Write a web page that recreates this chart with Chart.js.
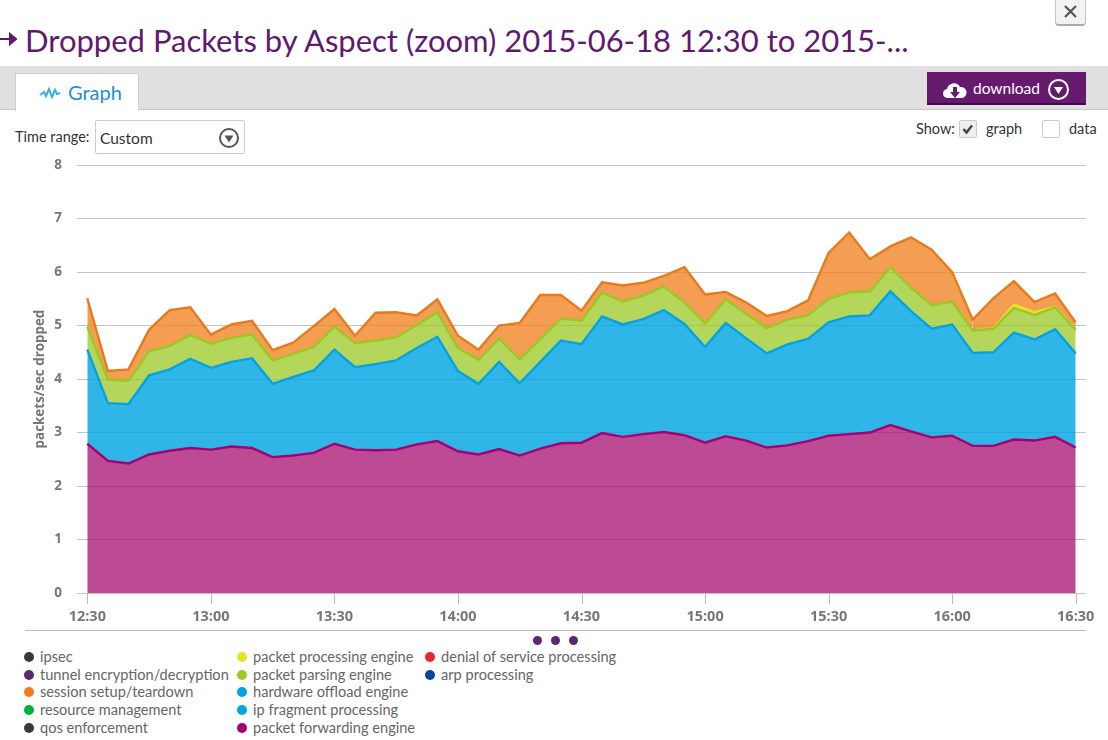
<!DOCTYPE html>
<html>
<head>
<meta charset="utf-8">
<title>Dropped Packets by Aspect</title>
<script src="https://cdn.jsdelivr.net/npm/chart.js@4"></script>
<style>
  html, body { margin: 0; padding: 0; background: #fff; overflow: hidden; }
  body { width: 1108px; height: 740px; position: relative; font-family: Lato, "Open Sans", sans-serif; color: #333; }
  .abs { position: absolute; }
  #title { left: 25px; top: 21px; font-size: 31px; line-height: 38px; color: #5f1a6e; white-space: nowrap; font-weight: 400; }
  #band { left: 0; top: 66px; width: 1108px; height: 43px; background: #e0e0e0; border-bottom: 1px solid #c8c8c8; }
  #tab { left: 15px; top: 73px; width: 122px; height: 37px; background: #fff; border: 1px solid #d0d0d0; border-bottom: none; }
  #tabText { left: 68px; top: 80px; font-size: 20px; line-height: 24px; color: #1c8fd0; }
  #close { left: 1055px; top: -4px; width: 31px; height: 30px; background: #f2f2f2; border: 1px solid #c4c4c4; border-bottom: 2px solid #aaa; border-radius: 0 0 4px 4px; box-sizing: border-box; }
  #download { left: 927px; top: 72px; width: 159px; height: 33px; background: #661a6e; border-bottom: 2px solid #3f0a48; box-sizing: border-box; }
  #downloadText { left: 973px; top: 78px; font-size: 15.5px; line-height: 20px; color: #fff; }
  .lbl { font-size: 14.5px; line-height: 18px; color: #333; white-space: nowrap; }
  #select { left: 95px; top: 120px; width: 150px; height: 34px; border: 1px solid #ccc; border-radius: 2px; box-sizing: border-box; background: #fff; }
  .box { width: 18px; height: 18px; box-sizing: border-box; border: 1px solid #ccc; border-radius: 2px; }
  #chartWrap { left: 0; top: 142px; width: 1108px; height: 483px; }
  #rule { left: 25px; top: 630px; width: 1061px; height: 1px; background: #bbb; }
  .pager { width: 9px; height: 9px; border-radius: 50%; background: #5b2a6e; top: 636px; }
  .legendDot { width: 10px; height: 10px; border-radius: 50%; }
  .legendText { font-size: 14.6px; line-height: 18px; color: #666; white-space: nowrap; }
</style>
</head>
<body>
<svg class="abs" style="left:0;top:30px" width="20" height="18"><path d="M0 9H14M10 4L16 9L10 14Z" stroke="#5f1a6e" stroke-width="2" fill="#5f1a6e"/></svg>
<div class="abs" id="title">Dropped Packets by Aspect (zoom) 2015-06-18 12:30 to 2015-...</div>
<div class="abs" id="close"></div>
<svg class="abs" style="left:1063px;top:4px" width="15" height="15"><path d="M2 2L13 13M13 2L2 13" stroke="#555" stroke-width="2.2"/></svg>
<div class="abs" id="band"></div>
<div class="abs" id="tab"></div>
<svg class="abs" style="left:39px;top:85px" width="22" height="16"><path d="M1 10L5 7L7 11L10 4L13 12L16 5L18 9L21 8" stroke="#3bb0dd" stroke-width="2" fill="none"/></svg>
<div class="abs" id="tabText">Graph</div>
<div class="abs" id="download"></div>
<svg class="abs" style="left:943px;top:79px" width="24" height="21"><path d="M5 19a4.500 4.500 0 0 1-1-9a7 7 0 0 1 13-2a5.500 5.500 0 0 1 2 11Z" fill="#fff"/><path d="M10 8h4v5h3l-5 6l-5-6h3Z" fill="#661a6e"/></svg>
<div class="abs" id="downloadText">download</div>
<svg class="abs" style="left:1047px;top:78px" width="23" height="23"><circle cx="11.500" cy="11.500" r="9.500" stroke="#fff" stroke-width="2" fill="none"/><path d="M7 9H16L11.500 16Z" fill="#fff"/></svg>
<div class="abs lbl" style="left:15px;top:128px">Time range:</div>
<div class="abs" id="select"></div>
<div class="abs lbl" style="left:100px;top:129px;font-size:15.5px">Custom</div>
<svg class="abs" style="left:218px;top:127px" width="22" height="22"><circle cx="11" cy="11" r="9" stroke="#555" stroke-width="2" fill="none"/><path d="M6.500 8.500H15.500L11 15.500Z" fill="#555"/></svg>
<div class="abs lbl" style="left:916px;top:120px">Show:</div>
<div class="abs box" style="left:959px;top:120px;background:#eee"></div>
<svg class="abs" style="left:961px;top:122px" width="14" height="14"><path d="M2.500 7L5.500 10.500L11 3.500" stroke="#444" stroke-width="2.400" fill="none"/></svg>
<div class="abs lbl" style="left:986px;top:120px">graph</div>
<div class="abs box" style="left:1042px;top:120px"></div>
<div class="abs lbl" style="left:1069px;top:120px">data</div>

<div class="abs" id="chartWrap"><canvas id="chart" width="1108" height="483"></canvas></div>
<div class="abs" id="rule"></div>
<div class="abs pager" style="left:533px"></div>
<div class="abs pager" style="left:551px"></div>
<div class="abs pager" style="left:569px"></div>
<div id="legend"></div>

<script>
// one sample every five minutes
const times = [
  '12:30','12:35','12:40','12:45','12:50','12:55','13:00','13:05','13:10','13:15','13:20','13:25',
  '13:30','13:35','13:40','13:45','13:50','13:55','14:00','14:05','14:10','14:15','14:20','14:25',
  '14:30','14:35','14:40','14:45','14:50','14:55','15:00','15:05','15:10','15:15','15:20','15:25',
  '15:30','15:35','15:40','15:45','15:50','15:55','16:00','16:05','16:10','16:15','16:20','16:25','16:30'
];
const tickLabels = ['12:30','13:00','13:30','14:00','14:30','15:00','15:30','16:00','16:30'];
const yTicks = [0, 1, 2, 3, 4, 5, 6, 7, 8];

const packetForwarding = [2.79,2.47,2.42,2.59,2.66,2.71,2.68,2.74,2.71,2.54,2.57,2.62,2.79,2.68,2.67,2.68,2.78,2.84,2.65,2.59,2.69,2.57,2.70,2.80,2.81,2.99,2.92,2.97,3.01,2.95,2.81,2.93,2.85,2.72,2.76,2.84,2.94,2.97,3.00,3.14,3.02,2.91,2.94,2.75,2.75,2.87,2.85,2.92,2.72];
const hardwareOffload = [1.76,1.08,1.11,1.48,1.52,1.67,1.53,1.58,1.68,1.37,1.47,1.54,1.76,1.54,1.61,1.67,1.80,1.95,1.50,1.32,1.63,1.35,1.62,1.92,1.84,2.18,2.10,2.15,2.28,2.08,1.79,2.12,1.91,1.76,1.89,1.91,2.12,2.20,2.19,2.50,2.25,2.03,2.08,1.74,1.75,2.00,1.89,2.01,1.76];
const packetParsing = [0.43,0.44,0.44,0.45,0.44,0.44,0.45,0.45,0.44,0.44,0.43,0.44,0.43,0.45,0.44,0.43,0.43,0.46,0.43,0.45,0.44,0.45,0.43,0.41,0.44,0.45,0.43,0.44,0.44,0.40,0.44,0.44,0.46,0.47,0.46,0.44,0.44,0.45,0.45,0.45,0.44,0.44,0.43,0.42,0.44,0.46,0.46,0.41,0.44];
const packetProcessing = [0,0,0,0,0,0,0,0,0,0,0,0,0,0,0,0,0,0,0,0,0,0,0,0,0,0,0,0,0,0,0,0,0,0,0,0,0,0,0,0,0,0,0,0,0.01,0.06,0.05,0.01,0];
const sessionSetup = [0.53,0.16,0.21,0.40,0.67,0.52,0.17,0.25,0.26,0.19,0.21,0.39,0.33,0.14,0.52,0.47,0.18,0.24,0.23,0.19,0.24,0.68,0.82,0.44,0.19,0.19,0.30,0.24,0.20,0.66,0.54,0.14,0.21,0.23,0.16,0.28,0.86,1.12,0.60,0.39,0.94,1.04,0.55,0.20,0.56,0.44,0.19,0.25,0.14];

// legend is filled down the columns
const legendNames = [
  ['ipsec','tunnel encryption/decryption','session setup/teardown','resource management','qos enforcement'],
  ['packet processing engine','packet parsing engine','hardware offload engine','ip fragment processing','packet forwarding engine'],
  ['denial of service processing','arp processing']
];
const legendColors = [
  ['#3a3a3a','#5b2a6e','#f47b20','#00b140','#3a3a3a'],
  ['#e8e02c','#9bc823','#00a4e4','#00a4e4','#a4006f'],
  ['#e8262d','#00479d']
];

const legendX = [28, 241, 429];
const legendY = [657, 675, 692, 710, 728];
const legendBox = document.getElementById('legend');
legendNames.forEach((col, c) => {
  col.forEach((name, r) => {
    const dot = document.createElement('div');
    dot.className = 'abs legendDot';
    dot.style.left = (legendX[c] - 4) + 'px';
    dot.style.top = (legendY[r] - 5) + 'px';
    dot.style.background = legendColors[c][r];
    legendBox.appendChild(dot);
    const txt = document.createElement('div');
    txt.className = 'abs legendText';
    txt.style.left = (legendX[c] + 12) + 'px';
    txt.style.top = (legendY[r] - 9) + 'px';
    txt.textContent = name;
    legendBox.appendChild(txt);
  });
});

function layer(label, data, line, fillColor, fillTo) {
  return {
    label: label,
    data: data,
    borderColor: line,
    backgroundColor: fillColor,
    borderWidth: 2.4,
    pointRadius: 0,
    tension: 0,
    fill: fillTo
  };
}

const processingLayer = layer('packet processing engine', packetProcessing, '#e8e02c', 'rgba(232,224,44,0.8)', '-1');
// the layer is empty for most of the range, so it must not cover the green edge there
processingLayer.segment = {
  borderColor: c => (packetProcessing[c.p0DataIndex] || packetProcessing[c.p1DataIndex]) ? '#e8e02c' : 'rgba(0,0,0,0)'
};

const axisFont = '"Open Sans", Lato, sans-serif';

// small marks under the x axis, at the positions the scale gives
const xTickMarks = {
  id: 'xTickMarks',
  afterDraw(chart) {
    const s = chart.scales.x;
    const c = chart.ctx;
    c.save();
    c.strokeStyle = '#bbb';
    c.lineWidth = 1;
    s.ticks.forEach((t, i) => {
      const px = Math.round(s.getPixelForTick(i)) + 0.5;
      c.beginPath();
      c.moveTo(px, s.top);
      c.lineTo(px, s.top + 11);
      c.stroke();
    });
    c.restore();
  }
};

const ctx = document.getElementById('chart').getContext('2d');
const myChart = new Chart(ctx, {
  type: 'line',
  data: {
    labels: times,
    datasets: [
      layer('packet forwarding engine', packetForwarding, '#a4006f', 'rgba(162,0,105,0.71)', 'origin'),
      layer('hardware offload engine', hardwareOffload, '#00a4e4', 'rgba(0,164,228,0.81)', '-1'),
      layer('packet parsing engine', packetParsing, '#9bc823', 'rgba(155,200,35,0.75)', '-1'),
      processingLayer,
      layer('session setup/teardown', sessionSetup, '#e87a1e', 'rgba(241,128,30,0.76)', '-1')
    ]
  },
  plugins: [xTickMarks],
  options: {
    responsive: false,
    animation: false,
    layout: { padding: { top: 9, right: 22, left: 0, bottom: 0 } },
    plugins: { legend: { display: false }, tooltip: { enabled: false } },
    scales: {
      x: {
        type: 'category',
        offset: true,
        afterFit: s => { s.height = 32; },
        afterBuildTicks: s => { s.ticks = s.ticks.filter(t => tickLabels.includes(times[t.value])); },
        border: { display: false },
        grid: { drawOnChartArea: false, drawTicks: true, tickLength: 11, tickColor: 'rgba(0,0,0,0)', offset: false },
        ticks: {
          autoSkip: false,
          maxRotation: 0,
          padding: 4,
          color: '#777',
          font: { family: axisFont, size: 14.5, weight: 'bold' }
        }
      },
      y: {
        stacked: true,
        min: 0,
        max: 8,
        afterFit: s => { s.width = 77; },
        afterBuildTicks: s => { s.ticks = yTicks.map(v => ({ value: v })); },
        border: { display: false },
        grid: { color: '#c4c4c4', drawTicks: false },
        ticks: {
          padding: 15,
          color: '#777',
          font: { family: axisFont, size: 13.5, weight: 'bold' }
        },
        title: {
          display: true,
          text: 'packets/sec dropped',
          color: '#777',
          padding: { top: 32, bottom: 0 },
          font: { family: axisFont, size: 13.4, weight: 'bold' }
        }
      }
    }
  }
});
</script>
</body>
</html>
